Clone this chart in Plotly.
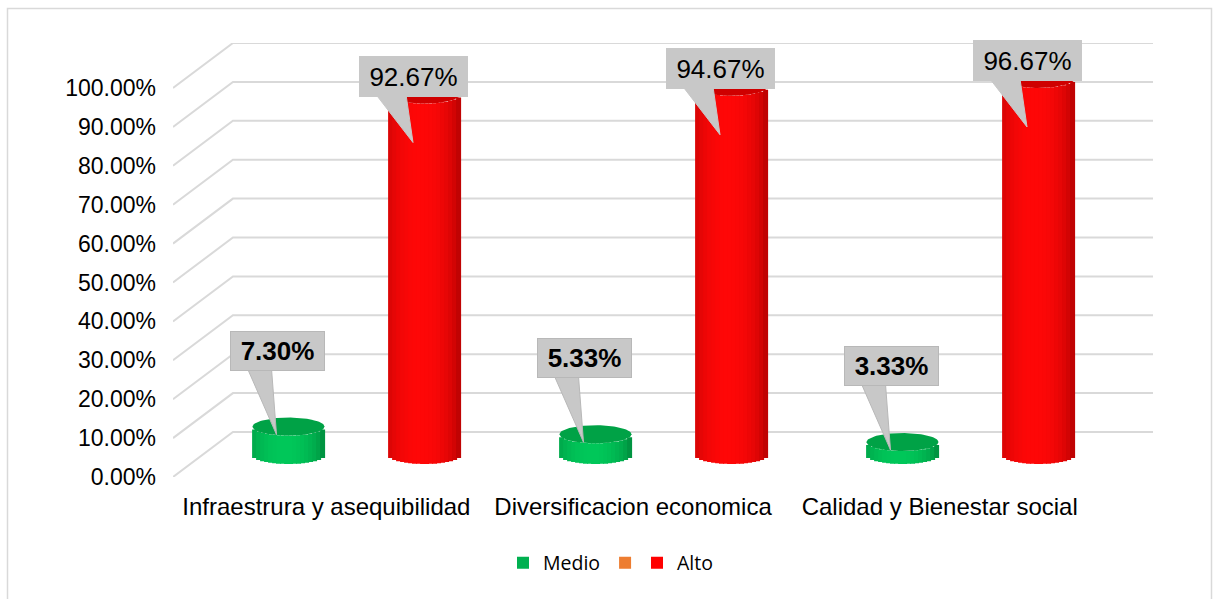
import numpy as np
import plotly.graph_objects as go

# ---------------- data ----------------
categories = ["Infraestrura y asequibilidad", "Diversificacion economica", "Calidad y Bienestar social"]
medio = [0.073, 0.0533, 0.0333]
bajo = [0.0, 0.0, 0.0]          # orange series (no name in legend)
alto = [0.9267, 0.9467, 0.9667]
y_ticks = [0.0, 0.1, 0.2, 0.3, 0.4, 0.5, 0.6, 0.7, 0.8, 0.9, 1.0]
series_names = ["Medio", "", "Alto"]

# ---------------- geometry / style ----------------
W_PX, H_PX = 1218, 599
FONT = "Liberation Sans, Arial, sans-serif"

def px_x(p):
    return p / W_PX

def px_y(p):
    return 1 - p / H_PX

PXX = 307.0      # pixels per category unit
PXY = 389.0      # pixels per 100%
DEPTH_X = 60 / PXX
DEPTH_Y = 45 / PXY
BAR_W = 72 / PXX
BAR_OFF = 68 / PXX
CAP_H = 9 / PXY
Y3_MIN = -0.05
N_STRIPS = 18

idx = list(range(len(categories)))

fig = go.Figure()

# --- gridlines (back wall + perspective floor lines) on the front axes ---
gx, gy = [], []
for v in y_ticks:
    gx += [-0.5, -0.5 + DEPTH_X, len(categories) - 0.5 + DEPTH_X, None]
    gy += [v, v + DEPTH_Y, v + DEPTH_Y, None]
fig.add_trace(go.Scatter(x=gx, y=gy, mode="lines", line=dict(color="#d9d9d9", width=2),
                         hoverinfo="skip", showlegend=False, xaxis="x", yaxis="y", cliponaxis=False))


def shade(u, dark, bright):
    f = np.cos(np.pi / 2 * np.clip((u + 0.1) / 1.12, -1, 1)) ** 0.45
    f = 0.15 + 0.85 * f
    c = [int(d + (b - d) * f) for d, b in zip(dark, bright)]
    return "rgb(%d,%d,%d)" % tuple(c)

styles = [
    dict(vals=medio, off=-BAR_OFF, legend="#00b050", dark=(0, 105, 45), bright=(0, 200, 90), cap="#00a246"),
    dict(vals=bajo, off=0.0, legend="#ed7d31", dark=(180, 80, 20), bright=(237, 125, 49), cap="#d06a25"),
    dict(vals=alto, off=BAR_OFF, legend="#ff0000", dark=(140, 0, 0), bright=(255, 8, 8), cap="#cf0000"),
]

# --- cylinder bodies as vertical strips ---
for st in styles:
    if max(st["vals"]) <= 0:
        continue
    for k in range(N_STRIPS):
        u = -1 + (2 * k + 1) / N_STRIPS
        s = np.sqrt(max(0.0, 1 - u * u))
        sw = BAR_W / N_STRIPS
        fig.add_trace(go.Bar(
            x=idx, y=st["vals"], base=[-CAP_H * s] * len(idx),
            width=sw * 1.25, offset=st["off"] - BAR_W / 2 + k * sw - sw * 0.1,
            marker=dict(color=shade(u, st["dark"], st["bright"]), line=dict(width=0)),
            cliponaxis=False,
            hoverinfo="skip", showlegend=False, xaxis="x3", yaxis="y3"))

# --- top caps ---
t = np.linspace(0, 2 * np.pi, 80)
for st in styles:
    for i, v in zip(idx, st["vals"]):
        if v <= 0:
            continue
        xc = i + st["off"]
        fig.add_trace(go.Scatter(
            x=xc + BAR_W / 2 * np.cos(t), y=v + CAP_H * np.sin(t), mode="lines",
            fill="toself", fillcolor=st["cap"], line=dict(width=0), cliponaxis=False,
            hoverinfo="skip", showlegend=False, xaxis="x3", yaxis="y3"))

# --- callout pointers + labels ---
BOX = "#c8c8c8"
callouts = [
    dict(s=0, bx=-11, by=-76, base=(-41, -17), base_y=-58, tip=(-12, 8), bold=True, w=85, h=30, border=1),
    dict(s=2, bx=-11.5, by=-18.5, base=(-48.5, -18.5), base_y=0, tip=(-11.5, 48), bold=False, w=101, h=33, border=0),
]
annotations = []
for co in callouts:
    st = styles[co["s"]]
    for i, v in zip(idx, st["vals"]):
        xc = i + st["off"]
        px_pts = [(co["base"][0], co["base_y"]), (co["base"][1], co["base_y"]), co["tip"]]
        tx = [xc + p[0] / PXX for p in px_pts] + [xc + px_pts[0][0] / PXX]
        ty = [v - p[1] / PXY for p in px_pts] + [v - px_pts[0][1] / PXY]
        fig.add_trace(go.Scatter(
            x=tx, y=ty, mode="lines", fill="toself", fillcolor=BOX,
            line=dict(width=1, color="#b8b8b8" if co["border"] else BOX), cliponaxis=False,
            hoverinfo="skip", showlegend=False, xaxis="x3", yaxis="y3"))
        txt = f"{v * 100:.2f}%"
        if co["bold"]:
            txt = "<b>" + txt + "</b>"
        annotations.append(dict(
            x=xc, y=v, xref="x3", yref="y3", xshift=co["bx"], yshift=-co["by"],
            text=txt, showarrow=False, xanchor="center", yanchor="middle",
            font=dict(family=FONT, size=26, color="#000000"),
            bgcolor=BOX, bordercolor="#b8b8b8" if co["border"] else BOX,
            borderwidth=co["border"], borderpad=4, width=co["w"], height=co["h"]))

# --- legend entries (real series on a hidden axis, so only the legend shows them) ---
legend_ids = ["legend", "legend", "legend2"]
for name, st, lg in zip(series_names, styles, legend_ids):
    fig.add_trace(go.Bar(x=idx, y=st["vals"], name=name, legend=lg,
                         marker=dict(color=st["legend"], line=dict(width=0)),
                         hoverinfo="skip", xaxis="x4", yaxis="y4"))

# chart border
shapes = [dict(type="rect", xref="paper", yref="paper",
               x0=px_x(7.5), x1=px_x(1211.5), y0=px_y(605), y1=px_y(8.5),
               line=dict(color="#d9d9d9", width=1.5), fillcolor="rgba(0,0,0,0)", layer="below")]

legend_font = dict(family="Open Sans, sans-serif", size=19.5, color="#000000")
fig.update_layout(
    width=W_PX, height=H_PX,
    margin=dict(l=0, r=0, t=0, b=0, autoexpand=False),
    paper_bgcolor="white", plot_bgcolor="rgba(0,0,0,0)",
    barmode="overlay",
    font=dict(family=FONT, color="#000000"),
    xaxis=dict(domain=[px_x(173), px_x(1153)], range=[-0.5, len(categories) - 0.5 + DEPTH_X],
               tickmode="array", tickvals=idx, ticktext=categories, showgrid=False, zeroline=False,
               showline=False, ticks="", tickfont=dict(family=FONT, size=24, color="#000000"),
               ticklabelstandoff=13, anchor="y", fixedrange=True, automargin=False),
    yaxis=dict(domain=[px_y(477), px_y(43)], range=[0, 1 + DEPTH_Y],
               tickmode="array", tickvals=y_ticks, ticktext=[f"{v * 100:.2f}%" for v in y_ticks],
               showgrid=False, zeroline=False, showline=False, ticks="",
               tickfont=dict(family=FONT, size=23, color="#000000"),
               ticklabelstandoff=16, anchor="x", fixedrange=True, automargin=False),
    xaxis3=dict(domain=[px_x(203), px_x(1124)], range=[-0.5, len(categories) - 0.5],
                visible=False, anchor="y3", fixedrange=True),
    yaxis3=dict(domain=[px_y(455 - Y3_MIN * PXY), px_y(66)], range=[Y3_MIN, 1],
                visible=False, anchor="x3", fixedrange=True),
    xaxis4=dict(domain=[px_x(203), px_x(1124)], range=[50, 51],
                visible=False, anchor="y4", fixedrange=True),
    yaxis4=dict(domain=[px_y(455), px_y(66)], range=[0, 1],
                visible=False, anchor="x4", fixedrange=True),
    showlegend=True,
    legend=dict(orientation="h", x=px_x(503), xanchor="left", y=px_y(563), yanchor="middle",
                font=legend_font, traceorder="normal", bgcolor="rgba(0,0,0,0)"),
    legend2=dict(orientation="h", x=px_x(637), xanchor="left", y=px_y(563), yanchor="middle",
                 font=legend_font, traceorder="normal", bgcolor="rgba(0,0,0,0)"),
    annotations=annotations,
    shapes=shapes,
)

fig.write_html("out.html")
